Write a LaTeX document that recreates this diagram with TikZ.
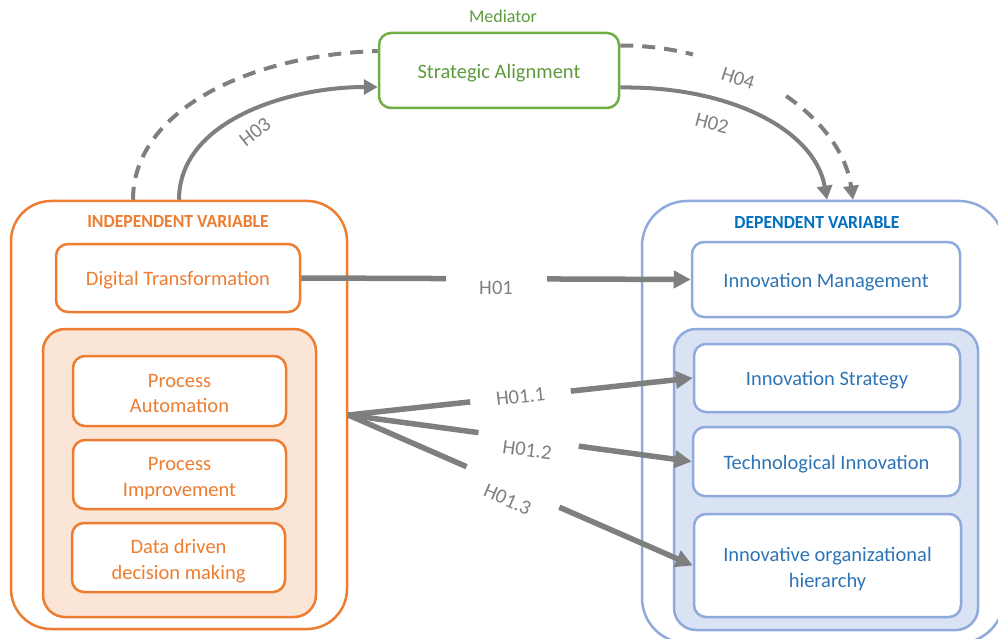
\documentclass[tikz,border=0pt]{standalone}
\usepackage{fontspec}
\usepackage{graphicx}
\setmainfont{Carlito}
\usetikzlibrary{arrows.meta,calc}
\definecolor{orng}{HTML}{ED7D31}
\definecolor{orngfill}{HTML}{FBE5D6}
\definecolor{bluedge}{HTML}{8FAADC}
\definecolor{bluefill}{HTML}{DAE3F3}
\definecolor{bluetext}{HTML}{2E75B6}
\definecolor{bluehead}{HTML}{0070C0}
\definecolor{grnedge}{HTML}{70AD47}
\definecolor{grntext}{HTML}{5E9B3E}
\definecolor{linegray}{HTML}{7F7F7F}
\definecolor{labgray}{HTML}{808080}
% fixed first-line height and last-line depth so every box sets its text alike
\newcommand{\boxtopstrut}{\rule{0pt}{20pt}}
\newcommand{\boxbotstrut}{\rule[-4.5pt]{0pt}{4.5pt}}
\begin{document}
\begin{tikzpicture}[x=1pt,y=-1pt,
  txt/.style={font=\fontsize{20.5}{25.5}\selectfont, align=center},
  box/.style={txt, draw, line width=2.5pt, rounded corners=12pt, fill=white, inner sep=0pt,
    execute at begin node=\boxtopstrut, execute at end node=\boxbotstrut},
  twoline/.style={text height=47.5pt, text depth=4.5pt},
  obox/.style={box, draw=orng, text=orng},
  bbox/.style={box, draw=bluedge, text=bluetext},
  group/.style={draw, line width=2.5pt, inner sep=0pt},
  head/.style={font=\fontsize{18.5}{20}\selectfont\bfseries, inner sep=0pt},
  conn/.style={draw=linegray, line width=5.5pt, -{Triangle[length=17pt,width=17pt]}},
  curv/.style={draw=linegray, line width=4pt},
  curvtip/.style={curv, -{Triangle[length=14pt,width=15pt]}},
  dashline/.style={dash pattern=on 13pt off 9pt},
  hlab/.style={txt, text=labgray, inner sep=0pt},
  gaplab/.style={hlab, fill=white, minimum width=101pt, minimum height=40pt}]
\useasboundingbox (0,0) rectangle (998,639);
\clip (0,0) rectangle (998,639);

% independent variable side
\node[group, draw=orng, fill=white, rounded corners=40pt, minimum width=336pt, minimum height=428pt] (indep) at (179,415) {};
\node[head, text=orng] (hdrI) at (178,222) {\scalebox{0.955}[1]{INDEPENDENT VARIABLE}};
\node[obox, minimum width=244pt, minimum height=68pt] (DT) at (178,278) {Digital Transformation};
\node[group, draw=orng, fill=orngfill, rounded corners=22pt, minimum width=273pt, minimum height=288pt] (procs) at (179.5,473) {};
\node[obox, twoline, minimum width=213pt, minimum height=70pt] (PA) at (179.5,391) {Process\\Automation};
\node[obox, twoline, minimum width=213pt, minimum height=69pt] (PI) at (179.5,474.5) {Process\\Improvement};
\node[obox, twoline, minimum width=213pt, minimum height=69pt] (DD) at (178.5,557.5) {Data driven\\decision making};

% dependent variable side
\node[group, draw=bluedge, fill=white, rounded corners=45pt, minimum width=362pt, minimum height=442pt] (dep) at (823,422) {};
\node[head, text=bluehead] (hdrD) at (817,223) {\scalebox{0.955}[1]{DEPENDENT VARIABLE}};
\node[bbox, minimum width=268pt, minimum height=75pt] (IM) at (826,279.5) {Innovation Management};
\node[group, draw=bluedge, fill=bluefill, rounded corners=22pt, minimum width=304pt, minimum height=301pt] (innov) at (826,479.5) {};
\node[bbox, minimum width=266pt, minimum height=68pt] (IS) at (827,378) {Innovation Strategy};
\node[bbox, minimum width=267pt, minimum height=69pt] (TI) at (826.5,461.5) {Technological Innovation};
\node[bbox, twoline, minimum width=267pt, minimum height=103pt] (IOH) at (827.5,565.5) {Innovative organizational\\hierarchy};

% mediator
\node[box, draw=grnedge, text=grntext, minimum width=240pt, minimum height=75pt] (SA) at (499,70.5) {Strategic Alignment};
\node[txt, text=grntext, font=\fontsize{18}{20}\selectfont, inner sep=0pt] (med) at (503,16) {Mediator};

% mediation paths
\draw[curv, dashline] ($(indep.north)+(-46,0)$) .. controls (133,110) and (250,55) .. ($(SA.west)+(0,-19.5)$);
\draw[curvtip] (indep.north) .. controls (179,120) and (290,87) .. ($(SA.west)+(0,16.5)$);
\draw[curvtip] ($(SA.east)+(0,17)$) .. controls (730,86) and (815,130) .. ($(dep.north)+(4,0)$);
\draw[curvtip, dashline] ($(SA.east)+(0,-25)$) .. controls (730,45) and (840,110) .. ($(dep.north)+(30,0)$);
\node[hlab, rotate=38] (lH03) at (255,132) {H03};
\node[hlab, rotate=-15] (lH02) at (712,123) {H02};
\node[hlab, fill=white, rotate=-18, minimum width=100pt, minimum height=28pt] (lH04) at (738,78) {H04};

% direct paths
\draw[conn] (DT.east) -- node[gaplab, pos=.5, below=-14pt] (lH01) {H01} (IM.west);
\draw[conn] (indep.east) -- node[gaplab, pos=.5, sloped] (lH011) {H01.1} (IS.west);
\draw[conn] (indep.east) -- node[gaplab, pos=.525, sloped, below=-12pt] (lH012) {H01.2} (TI.west);
\draw[conn] (indep.east) -- node[gaplab, pos=.478, sloped, below=-9pt] (lH013) {H01.3} (IOH.west);
\end{tikzpicture}
\end{document}
